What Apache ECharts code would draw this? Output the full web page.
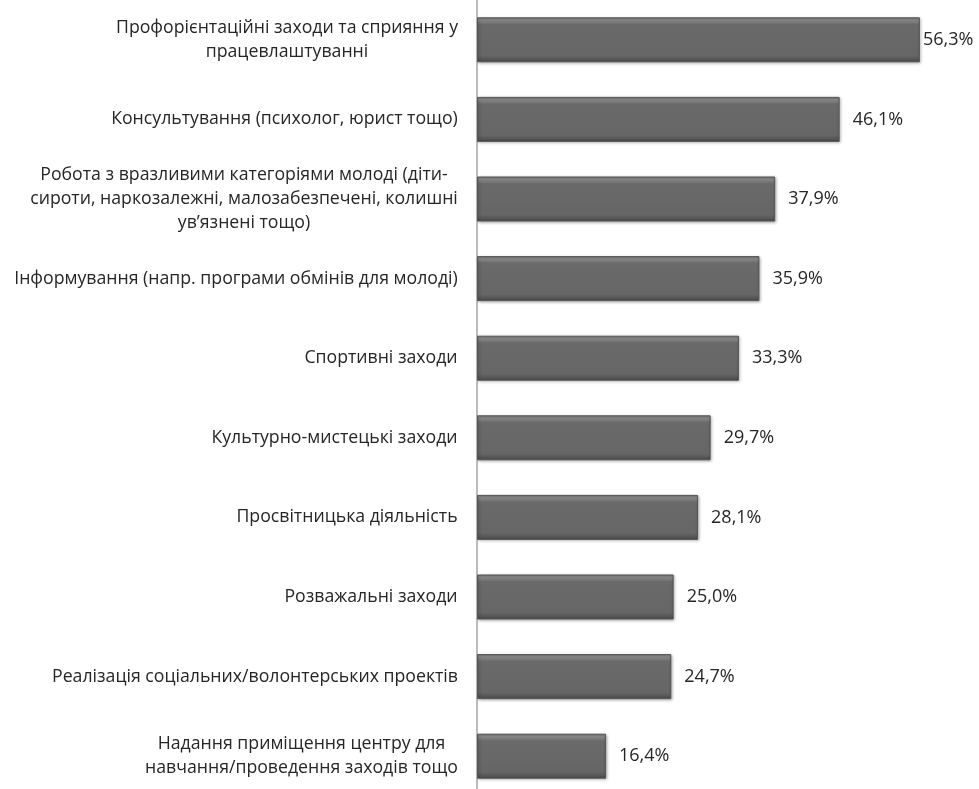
<!DOCTYPE html>
<html>
<head>
<meta charset="utf-8">
<script src="https://cdn.jsdelivr.net/npm/echarts@6/dist/echarts.min.js"></script>
<style>html,body{margin:0;padding:0;background:#fff;}#c{width:979px;height:789px;}</style>
</head>
<body>
<div id="c"></div>
<script>
var categories = [
  'Профорієнтаційні заходи та сприяння у\nпрацевлаштуванні',
  'Консультування (психолог, юрист тощо)',
  'Робота з вразливими категоріями молоді (діти-\nсироти, наркозалежні, малозабезпечені, колишні\nув’язнені тощо)',
  'Інформування (напр. програми обмінів для молоді)',
  'Спортивні заходи',
  'Культурно-мистецькі заходи',
  'Просвітницька діяльність',
  'Розважальні заходи',
  'Реалізація соціальних/волонтерських проектів',
  'Надання приміщення центру для\nнавчання/проведення заходів тощо'
];
var values = [56.3, 46.1, 37.9, 35.9, 33.3, 29.7, 28.1, 25.0, 24.7, 16.4];

var FONT = 'Open Sans';
var FS = 17.7;
var ctx = document.createElement('canvas').getContext('2d');
ctx.font = FS + 'px "' + FONT + '"';
var rich = {};
categories.forEach(function (c, i) {
  var w = 0;
  c.split('\n').forEach(function (s) { w = Math.max(w, ctx.measureText(s).width); });
  rich['r' + i] = { width: Math.ceil(w), align: 'center', color: '#262626', fontFamily: FONT, fontSize: FS, lineHeight: 24 };
});

var chart = echarts.init(document.getElementById('c'));
var barData = values.map(function (v, i) {
  var item = { value: v };
  if (i === 0) { item.label = { distance: 3 }; }
  return item;
});
chart.setOption({
  animation: false,
  grid: { left: 477, right: 30, top: 0, height: 796, containLabel: false, outerBoundsMode: 'none' },
  xAxis: { type: 'value', min: 0, max: 60, show: false },
  yAxis: {
    type: 'category', inverse: true, data: categories,
    axisLine: { show: true, lineStyle: { color: '#a6a6a6', width: 1.5 } },
    axisTick: { show: false },
    axisLabel: {
      margin: 19, align: 'right', color: '#262626',
      fontFamily: FONT, fontSize: FS, lineHeight: 24,
      formatter: function (v, idx) {
        return v.split('\n').map(function (s) { return '{r' + idx + '|' + s + '}'; }).join('\n');
      },
      rich: rich
    },
    splitLine: { show: false }
  },
  series: [{
    type: 'bar', data: barData, barWidth: 45,
    itemStyle: {
      color: new echarts.graphic.LinearGradient(0, 0, 0, 1, [
        { offset: 0, color: '#7a7a7a' },
        { offset: 0.06, color: '#8c8c8c' },
        { offset: 0.16, color: '#6a6a6a' },
        { offset: 0.85, color: '#666666' },
        { offset: 1, color: '#4a4a4a' }
      ]),
      borderColor: '#555555', borderWidth: 1,
      shadowColor: 'rgba(0,0,0,0.35)', shadowBlur: 3, shadowOffsetX: 1, shadowOffsetY: 1
    },
    label: {
      show: true, position: 'right', distance: 13, color: '#262626',
      fontFamily: FONT, fontSize: 18,
      formatter: function (p) { return p.value.toFixed(1).replace('.', ',') + '%'; }
    }
  }]
});
</script>
</body>
</html>
